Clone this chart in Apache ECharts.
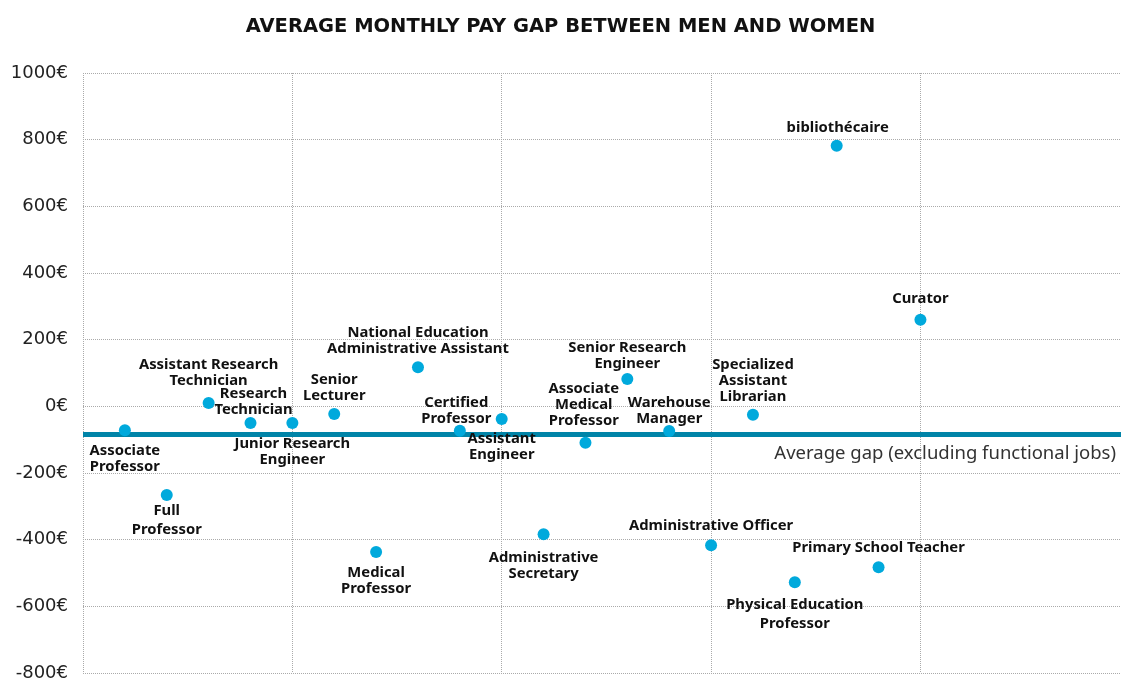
<!DOCTYPE html>
<html>
<head>
<meta charset="utf-8">
<script src="https://cdn.jsdelivr.net/npm/echarts@6/dist/echarts.min.js"></script>
<style>
html,body{margin:0;padding:0;background:#fff;}
#chart{width:1121px;height:679px;}
</style>
</head>
<body>
<div id="chart"></div>
<script>
// ---- data ----
const jobs = [
  'Associate\nProfessor', 'Full\nProfessor', 'Assistant Research\nTechnician', 'Research\nTechnician',
  'Junior Research\nEngineer', 'Senior\nLecturer', 'Medical\nProfessor',
  'National Education\nAdministrative Assistant', 'Certified\nProfessor', 'Assistant\nEngineer',
  'Administrative\nSecretary', 'Associate\nMedical\nProfessor', 'Senior Research\nEngineer',
  'Warehouse\nManager', 'Administrative Officer', 'Specialized\nAssistant\nLibrarian',
  'Physical Education\nProfessor', 'bibliothécaire', 'Primary School Teacher', 'Curator'
];
const jobIndex = [1,2,3,4,5,6,7,8,9,10,11,12,13,14,15,16,17,18,19,20];
const payGap = [-72, -266, 10, -50, -50, -23, -437, 117, -73, -38, -384, -109, 82, -74, -417, -25, -528, 782, -483, 260];
const averageGap = -83;
const averageLabel = 'Average gap (excluding functional jobs)';
const title = 'AVERAGE MONTHLY PAY GAP BETWEEN MEN AND WOMEN';
const yTicks = [-800, -600, -400, -200, 0, 200, 400, 600, 800, 1000];

// ---- label layout (side, dx, dy, lineHeight) ----
const labelLayout = [
  ['bottom', 0, 1, 16], ['bottom', 0, -4.5, 19], ['top', 0, -5, 16], ['top', 3, 4, 16],
  ['bottom', 0, 1.5, 16], ['top', 0, -1.3, 16], ['bottom', 0, 2, 16], ['top', 0, -1.5, 16],
  ['top', -3.6, 4.7, 16], ['bottom', 0, 0.4, 16], ['bottom', 0, 4, 16], ['top', -1.7, -5, 16],
  ['top', 0, 2, 16], ['top', 0, 5, 16], ['top', 0, -2.7, 16], ['top', 0, -0.8, 16],
  ['bottom', 0, 2, 19], ['top', 1, -1, 16], ['top', 0, -2.5, 16], ['top', 0, -4, 16]
];
const SYMBOL = 12, GAP = 4, NUDGE = 1;

const font = '"Noto Sans", sans-serif';
const points = jobIndex.map((x, i) => {
  const [side, dx, dy, lh] = labelLayout[i];
  const top = side === 'top';
  return {
    value: [x, payGap[i]],
    name: jobs[i],
    label: {
      position: [SYMBOL / 2 + dx, (top ? -GAP : SYMBOL + GAP) + dy + NUDGE],
      verticalAlign: top ? 'bottom' : 'top',
      align: 'center',
      lineHeight: lh
    }
  };
});

const chart = echarts.init(document.getElementById('chart'), null, {renderer: 'canvas'});
chart.setOption({
  animation: false,
  backgroundColor: '#ffffff',
  title: {
    text: title,
    left: 'center',
    top: 12,
    textStyle: {fontFamily: '"DejaVu Sans", sans-serif', fontWeight: 'bold', fontSize: 19.5, color: '#111'}
  },
  grid: {left: 83, right: 0, top: 73, bottom: 6, containLabel: false, outerBoundsMode: 'none'},
  xAxis: {
    type: 'value', min: 0, max: 24.79, interval: 5,
    axisLine: {show: false}, axisTick: {show: false}, axisLabel: {show: false},
    splitLine: {show: true, showMinLine: true, showMaxLine: false, lineStyle: {type: 'dotted', color: '#aaaaaa', width: 1}}
  },
  yAxis: {
    type: 'value', min: yTicks[0], max: yTicks[yTicks.length - 1], interval: 200,
    axisLine: {show: false}, axisTick: {show: false},
    axisLabel: {
      margin: 15, fontFamily: '"DejaVu Sans", sans-serif', fontSize: 18, color: '#222',
      formatter: v => v + '€'
    },
    splitLine: {show: true, lineStyle: {type: 'dotted', color: '#aaaaaa', width: 1}}
  },
  series: [{
    type: 'scatter',
    symbol: 'circle',
    symbolSize: SYMBOL,
    itemStyle: {color: '#00a9dc', opacity: 1},
    z: 3,
    label: {
      show: true,
      formatter: p => p.name,
      fontFamily: font,
      fontWeight: 'bold',
      fontSize: 14.8,
      color: '#111',
      opacity: 1
    },
    labelLayout: {hideOverlap: false},
    data: points,
    markLine: {
      silent: true,
      symbol: 'none',
      z: 2,
      lineStyle: {type: 'solid', color: '#0084a8', width: 5, opacity: 1},
      label: {
        show: true,
        position: 'insideEndBottom',
        distance: [5, 10],
        formatter: averageLabel,
        fontFamily: font,
        fontSize: 18.5,
        color: '#333'
      },
      data: [{yAxis: averageGap}]
    }
  }]
});
</script>
</body>
</html>
